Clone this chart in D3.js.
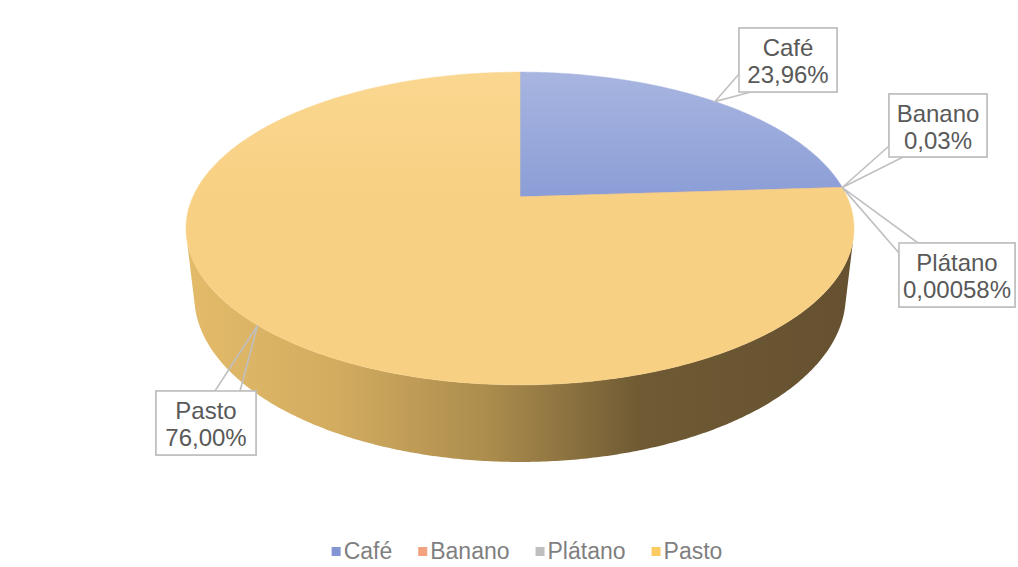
<!DOCTYPE html>
<html>
<head>
<meta charset="utf-8">
<script src="https://cdn.jsdelivr.net/npm/d3@7"></script>
<style>
  html, body { margin: 0; padding: 0; background: #ffffff; }
  svg { display: block; }
</style>
</head>
<body>
<svg id="chart" width="1018" height="567"></svg>
<script>
// ---- Data -------------------------------------------------------------
const categories = ["Café", "Banano", "Plátano", "Pasto"];
const shares = [23.96, 0.03, 0.00058, 76.00];          // percent of area
const shareDecimals = [2, 2, 5, 2];                     // digits shown in labels
const legendColors = ["#8396d3", "#f2a27f", "#bfbfbf", "#fcca63"];

// ---- Layout -----------------------------------------------------------
const W = 1018, H = 567;
const svg = d3.select("#chart");

// Perspective camera looking down at a unit disk (radius 1, thickness h)
const cam = { x0: 520, y0: 197, f: 1444, d: 4.414, el: 27.3 * Math.PI / 180, h: 0.2339 };
const ce = Math.cos(cam.el), se = Math.sin(cam.el);

// t: angle clockwise from the far edge; y: 0 = top face, -h = bottom face
function project(t, y) {
  const X = Math.sin(t), Z = Math.cos(t);
  const depth = cam.d + Z * ce - y * se;
  const up = y * ce + Z * se;
  return [cam.x0 + cam.f * X / depth, cam.y0 - cam.f * up / depth];
}

function arcPoints(a0, a1, y) {
  const n = Math.max(2, Math.ceil(Math.abs(a1 - a0) / (Math.PI / 360)));
  return d3.range(n + 1).map(i => project(a0 + (a1 - a0) * i / n, y));
}

const pie = d3.pie().sort(null).value(d => d).startAngle(0).endAngle(2 * Math.PI);
const arcs = pie(shares);

// ---- Gradients --------------------------------------------------------
const defs = svg.append("defs");

const sideGrad = defs.append("linearGradient")
  .attr("id", "side-pasto").attr("gradientUnits", "userSpaceOnUse")
  .attr("x1", 186).attr("y1", 0).attr("x2", 854).attr("y2", 0);
[[0, "#e3bb6a"], [0.22, "#d3ac60"], [0.45, "#ac8d4d"], [0.68, "#6f5a34"], [1, "#655130"]]
  .forEach(([o, c]) => sideGrad.append("stop").attr("offset", o).attr("stop-color", c));

const topGrads = [
  ["top-0", "#a8b5e0", "#8a9dd6"],
  ["top-1", "#f4b08f", "#ef9f7a"],
  ["top-2", "#cfcfcf", "#bdbdbd"],
  ["top-3", "#fad790", "#f8d083"]
];
topGrads.forEach(([id, c0, c1]) => {
  const g = defs.append("linearGradient").attr("id", id)
    .attr("gradientUnits", "userSpaceOnUse")
    .attr("x1", 0).attr("y1", 72).attr("x2", 0).attr("y2", 200);
  g.append("stop").attr("offset", 0).attr("stop-color", c0);
  g.append("stop").attr("offset", 1).attr("stop-color", c1);
});

const line = d3.line();

// ---- Side wall (front, visible part) ----------------------------------
const silhouette = Math.acos(-1 / (cam.d * ce));
const tA = silhouette, tB = 2 * Math.PI - silhouette;
const pieG = svg.append("g");

arcs.forEach((a, i) => {
  const s0 = Math.max(a.startAngle, tA), s1 = Math.min(a.endAngle, tB);
  if (s1 <= s0) return;
  const topPts = arcPoints(s0, s1, 0);
  const botPts = arcPoints(s1, s0, -cam.h);
  pieG.append("path")
    .attr("d", line(topPts.concat(botPts)) + "Z")
    .attr("fill", i === 3 ? "url(#side-pasto)" : legendColors[i]);
});

// ---- Top face slices --------------------------------------------------
arcs.forEach((a, i) => {
  const pts = [[cam.x0, cam.y0]].concat(arcPoints(a.startAngle, a.endAngle, 0));
  pieG.append("path")
    .attr("d", line(pts) + "Z")
    .attr("fill", `url(#top-${i})`)
    .attr("stroke", `url(#top-${i})`)
    .attr("stroke-width", 0.5);
});

// ---- Callout labels ---------------------------------------------------
const fmt = (v, dec) => d3.format(`.${dec}f`)(v).replace(".", ",") + "%";

// box geometry and wedge base points; "A" marks where the pointer tip goes
const callouts = [
  { box: [739, 28, 98, 64], outline: [[739, 28], [837, 28], [837, 92], [751, 92], "A", [739, 74]] },
  { box: [889, 94, 98, 63], outline: [[889, 94], [987, 94], [987, 157], [903, 157], "A", [889, 146]] },
  { box: [899, 243, 116, 64], outline: ["A", [918, 243], [1015, 243], [1015, 307], [899, 307], [899, 253]] },
  { box: [156, 391, 100, 64], outline: [[156, 391], [215, 391], "A", [240, 391], [256, 391], [256, 455], [156, 455]] }
];

const labelG = svg.append("g");
arcs.forEach((a, i) => {
  const c = callouts[i];
  const mid = (a.startAngle + a.endAngle) / 2;
  const tip = project(mid, 0);
  const pts = c.outline.map(p => p === "A" ? tip : p);
  labelG.append("path")
    .attr("d", line(pts) + "Z")
    .attr("fill", "none")
    .attr("stroke", "#bfbfbf")
    .attr("stroke-width", 1.6)
    .attr("stroke-linejoin", "miter");
  labelG.append("rect")
    .attr("x", c.box[0]).attr("y", c.box[1])
    .attr("width", c.box[2]).attr("height", c.box[3])
    .attr("fill", "#ffffff")
    .attr("stroke", "#bfbfbf").attr("stroke-width", 1.6);
  const cx = c.box[0] + c.box[2] / 2;
  const t = labelG.append("text")
    .attr("text-anchor", "middle")
    .attr("font-family", "'Liberation Sans', Arial, sans-serif")
    .attr("font-size", 24)
    .attr("fill", "#595959");
  t.append("tspan").attr("x", cx).attr("y", c.box[1] + 28).text(categories[i]);
  t.append("tspan").attr("x", cx).attr("y", c.box[1] + 55).text(fmt(shares[i], shareDecimals[i]));
});

// ---- Legend -----------------------------------------------------------
const legend = svg.append("g");
const legendFont = 23, sq = 9, sqGap = 3, itemGap = 26, legendY = 559;
const items = legend.selectAll("g.item").data(categories).join("g").attr("class", "item");
items.append("rect")
  .attr("width", sq).attr("height", sq)
  .attr("y", legendY - 12)
  .attr("fill", (d, i) => legendColors[i]);
items.append("text")
  .attr("x", sq + sqGap).attr("y", legendY)
  .attr("font-family", "'Liberation Sans', Arial, sans-serif")
  .attr("font-size", legendFont)
  .attr("fill", "#7f7f7f")
  .text(d => d);
let widths = [];
items.each(function () { widths.push(this.getBBox().width); });
const total = d3.sum(widths) + itemGap * (categories.length - 1);
let x = 527 - total / 2;
items.attr("transform", (d, i) => {
  const tx = x; x += widths[i] + itemGap; return `translate(${tx},0)`;
});
</script>
</body>
</html>
